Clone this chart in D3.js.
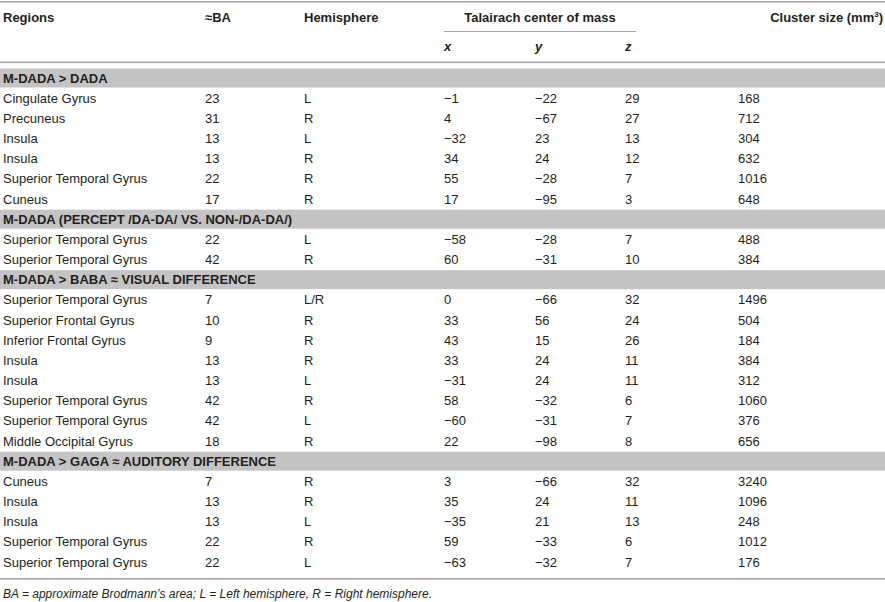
<!DOCTYPE html>
<html><head><meta charset="utf-8">
<script src="https://cdn.jsdelivr.net/npm/d3@7"></script>
<style>
html,body{margin:0;padding:0;background:#fff;}
svg text{font-family:"Liberation Sans",Arial,Helvetica,sans-serif;fill:#231f20;}
</style></head>
<body><svg id="c" width="885" height="602"></svg>
<script>
const columns = ["Regions","≈BA","Hemisphere","Talairach center of mass","Cluster size (mm"];
const subColumns = ["x","y","z"];
const sections = [
  "M-DADA > DADA",
  "M-DADA (PERCEPT /DA-DA/ VS. NON-/DA-DA/)",
  "M-DADA > BABA ≈ VISUAL DIFFERENCE",
  "M-DADA > GAGA ≈ AUDITORY DIFFERENCE"
];
const sectionIndex = [0,0,0,0,0,0, 1,1, 2,2,2,2,2,2,2,2, 3,3,3,3,3];
const regions = ["Cingulate Gyrus","Precuneus","Insula","Insula","Superior Temporal Gyrus","Cuneus",
  "Superior Temporal Gyrus","Superior Temporal Gyrus",
  "Superior Temporal Gyrus","Superior Frontal Gyrus","Inferior Frontal Gyrus","Insula","Insula","Superior Temporal Gyrus","Superior Temporal Gyrus","Middle Occipital Gyrus",
  "Cuneus","Insula","Insula","Superior Temporal Gyrus","Superior Temporal Gyrus"];
const ba = [23,31,13,13,22,17, 22,42, 7,10,9,13,13,42,42,18, 7,13,13,22,22];
const hemisphere = ["L","R","L","R","R","R", "L","R", "L/R","R","R","R","L","R","L","R", "R","R","L","R","L"];
const xs = [-1,4,-32,34,55,17, -58,60, 0,33,43,33,-31,58,-60,22, 3,35,-35,59,-63];
const ys = [-22,-67,23,24,-28,-95, -28,-31, -66,56,15,24,24,-32,-31,-98, -66,24,21,-33,-32];
const zs = [29,27,13,12,7,3, 7,10, 32,24,26,11,11,6,7,8, 32,11,13,6,7];
const clusterSize = [168,712,304,632,1016,648, 488,384, 1496,504,184,384,312,1060,376,656, 3240,1096,248,1012,176];
const footnote = "BA = approximate Brodmann’s area; L = Left hemisphere, R = Right hemisphere.";

const svg = d3.select("#c");
const W = 885;
const fmt = v => (v < 0 ? "\u2212" + Math.abs(v) : String(v));

// build row list
const rows = [];
let last = -1;
regions.forEach((r,i) => {
  if (sectionIndex[i] !== last) { rows.push({type:"section", label: sections[sectionIndex[i]]}); last = sectionIndex[i]; }
  rows.push({type:"data", i});
});
const yRow = d3.scaleLinear().domain([0, rows.length-1]).range([78, 562]);
const colX = {reg:3, ba:205, hemi:304, x:444, y:535, z:625, cs:738};

// rules
svg.append("rect").attr("x",0).attr("y",1).attr("width",W).attr("height",1.6).attr("fill","#a7a7a7");
svg.append("rect").attr("x",0).attr("y",61.5).attr("width",W).attr("height",1.6).attr("fill","#a7a7a7");
svg.append("rect").attr("x",444).attr("y",31).attr("width",192).attr("height",1).attr("fill","#a7a7a7");
svg.append("rect").attr("x",0).attr("y",578).attr("width",W).attr("height",1.6).attr("fill","#a7a7a7");

const hdr = svg.append("g").attr("font-size",13).attr("font-weight","bold");
hdr.append("text").attr("x",colX.reg).attr("y",22).text(columns[0]);
hdr.append("text").attr("x",colX.ba).attr("y",22).text(columns[1]);
hdr.append("text").attr("x",colX.hemi).attr("y",22).text(columns[2]);
hdr.append("text").attr("x",540).attr("y",22).attr("text-anchor","middle").text(columns[3]);
const cst = hdr.append("text").attr("x",883).attr("y",22).attr("text-anchor","end").text(columns[4]);
cst.append("tspan").attr("font-size",8).attr("dy",-5).text("3");
cst.append("tspan").attr("dy",5).text(")");
[colX.x,colX.y,colX.z].forEach((x,k)=>{
  hdr.append("text").attr("x",x).attr("y",51).attr("font-style","italic").text(subColumns[k]);
});

// rows
const g = svg.append("g").attr("font-size",13);
rows.forEach((r,k) => {
  const cy = yRow(k);
  if (r.type === "section") {
    g.append("rect").attr("x",0).attr("y",cy-9.5).attr("width",W).attr("height",19).attr("fill","#c4c4c4");
    g.append("text").attr("x",colX.reg).attr("y",cy+4.5).attr("font-weight","bold").text(r.label);
  } else {
    const i = r.i;
    const vals = [[colX.reg,regions[i]],[colX.ba,ba[i]],[colX.hemi,hemisphere[i]],[colX.x,fmt(xs[i])],[colX.y,fmt(ys[i])],[colX.z,fmt(zs[i])],[colX.cs,clusterSize[i]]];
    vals.forEach(([x,t]) => g.append("text").attr("x",x).attr("y",cy+4.5).attr("fill","#333").text(t));
  }
});

svg.append("text").attr("x",3).attr("y",598).attr("font-size",12).attr("font-style","italic").attr("fill","#333").text(footnote);
</script></body></html>
